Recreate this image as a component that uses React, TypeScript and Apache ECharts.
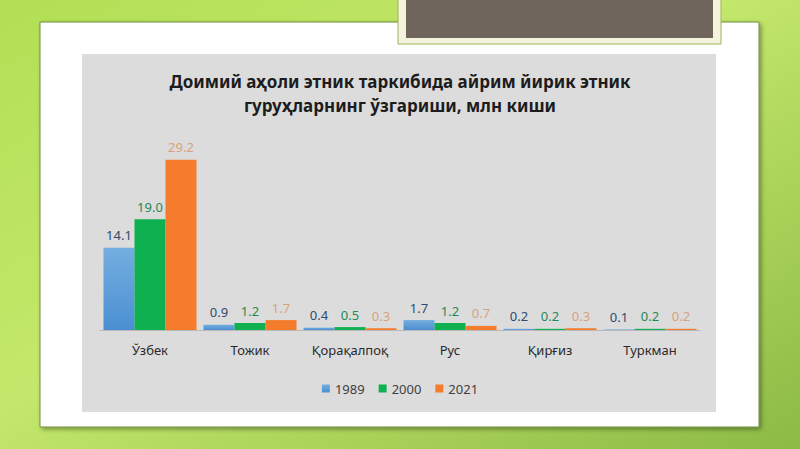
import React, { useEffect, useRef } from 'react';
import * as echarts from 'echarts';

const categories = ['Ўзбек', 'Тожик', 'Қорақалпоқ', 'Рус', 'Қирғиз', 'Туркман'];
const years = ['1989', '2000', '2021'];
const values1989 = [14.1, 0.9, 0.4, 1.7, 0.2, 0.1];
const values2000 = [19.0, 1.2, 0.5, 1.2, 0.2, 0.2];
const values2021 = [29.2, 1.7, 0.3, 0.7, 0.3, 0.2];

const title = 'Доимий аҳоли этник таркибида айрим йирик этник\nгуруҳларнинг ўзгариши, млн киши';

interface ChartProps {
    options: any;
    style?: React.CSSProperties;
}

const EChartsReact: React.FC<ChartProps> = ({ options, style }) => {
    const chartRef = useRef<HTMLDivElement>(null);

    useEffect(() => {
        if (!chartRef.current) return;
        const chart = echarts.init(chartRef.current, undefined, { renderer: 'svg' });
        chart.setOption(options);
        return () => {
            chart.dispose();
        };
    }, [options]);

    return <div ref={chartRef} style={style} />;
};

const font = "'Noto Sans', 'Open Sans', sans-serif";

const makeSeries = (name: string, data: number[], color: any, labelColor: string) => ({
    name,
    type: 'bar',
    data,
    barGap: '0%',
    barCategoryGap: '7%',
    itemStyle: { color },
    label: {
        show: true,
        position: 'top',
        distance: 6,
        formatter: (p: any) => p.value.toFixed(1),
        color: labelColor,
        fontSize: 13,
        fontFamily: font
    }
});

const blue = new echarts.graphic.LinearGradient(0, 0, 0, 1, [
    { offset: 0, color: '#74aee0' },
    { offset: 1, color: '#4b8fd2' }
]);
const green = '#0fb04f';
const orange = '#f47c2c';

const App: React.FC = () => {
    useEffect(() => {
        document.body.style.margin = '0';
    }, []);

    const options = {
        animation: false,
        textStyle: { fontFamily: font },
        graphic: [
            {
                type: 'rect',
                z: -10,
                shape: { x: 0, y: 0, width: 800, height: 449 },
                style: {
                    fill: new echarts.graphic.LinearGradient(0, 0, 1, 1, [
                        { offset: 0, color: '#b2df55' },
                        { offset: 0.45, color: '#c4e86b' },
                        { offset: 1, color: '#8cba45' }
                    ])
                },
                silent: true
            },
            {
                type: 'rect',
                z: -9,
                shape: { x: 40, y: 22, width: 719, height: 405 },
                style: {
                    fill: '#ffffff',
                    stroke: '#6f8f3a',
                    lineWidth: 1,
                    shadowBlur: 4,
                    shadowOffsetX: 2,
                    shadowOffsetY: 2,
                    shadowColor: 'rgba(0,0,0,0.35)'
                },
                silent: true
            },
            {
                type: 'rect',
                z: -8,
                shape: { x: 82, y: 54, width: 634, height: 358 },
                style: { fill: '#dcdcdd' },
                silent: true
            },
            {
                type: 'rect',
                z: -7,
                shape: { x: 398, y: -2, width: 323, height: 46 },
                style: { fill: '#f4f3dc', stroke: '#9cb45a', lineWidth: 1 },
                silent: true
            },
            {
                type: 'rect',
                z: -6,
                shape: { x: 406, y: -2, width: 307, height: 40 },
                style: { fill: '#6f655c' },
                silent: true
            }
        ],
        title: {
            text: title,
            left: 'center',
            top: 64,
            textStyle: {
                fontSize: 17,
                fontWeight: 'bold',
                color: '#1c1c1c',
                lineHeight: 24,
                fontFamily: font
            }
        },
        legend: {
            data: years,
            top: 377,
            left: 'center',
            itemWidth: 8,
            itemHeight: 8,
            itemGap: 14,
            icon: 'rect',
            textStyle: { fontSize: 13, color: '#404040', fontFamily: font }
        },
        grid: {
            left: 100,
            right: 100,
            top: 155,
            height: 175,
            containLabel: false
        },
        xAxis: {
            type: 'category',
            data: categories,
            axisLine: { lineStyle: { color: '#b9b9b9' } },
            axisTick: { show: false },
            axisLabel: { fontSize: 13, color: '#2a2a2a', margin: 13, fontFamily: font }
        },
        yAxis: {
            type: 'value',
            min: 0,
            max: 30,
            show: false,
            splitLine: { show: false }
        },
        series: [
            makeSeries('1989', values1989, blue, '#2f4b6e'),
            makeSeries('2000', values2000, green, '#1f8a52'),
            makeSeries('2021', values2021, orange, '#d9a27c')
        ]
    };

    return (
        <EChartsReact
            options={options}
            style={{ position: 'absolute', left: 0, top: 0, width: 800, height: 449 }}
        />
    );
};

export default App;
